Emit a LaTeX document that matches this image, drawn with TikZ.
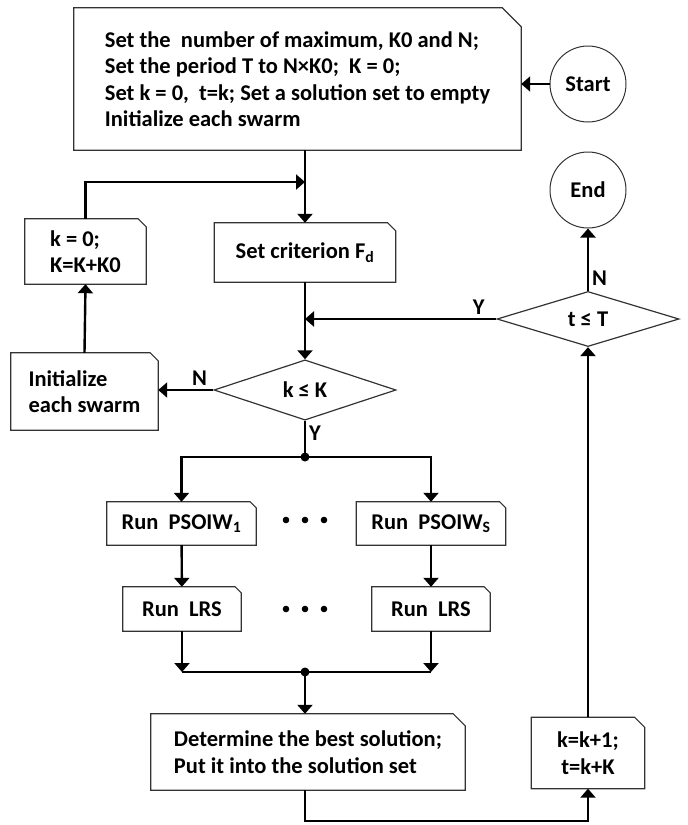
\documentclass[tikz,border=0pt]{standalone}
\usepackage{fontspec}
\setmainfont{Carlito}
\usetikzlibrary{arrows.meta,shapes.geometric}

\tikzset{
  frame/.style={draw=black!80, line width=1.2pt},
  cutbox/.style={inner sep=0pt, align=left, append after command={\pgfextra{
      \draw[frame] (\tikzlastnode.south west) -- (\tikzlastnode.north west)
        -- ([xshift=-#1]\tikzlastnode.north east) -- ([yshift=-#1]\tikzlastnode.north east)
        -- (\tikzlastnode.south east) -- cycle;}}},
  terminal/.style={circle, draw=black!80, line width=1pt, minimum size=76pt, inner sep=0pt},
  decision/.style={diamond, draw=black!80, line width=1.2pt, minimum width=182pt, minimum height=54pt, inner sep=0pt},
  conn/.style={line width=2.4pt},
  arr/.style={conn, -{Triangle[width=15pt,length=9pt]}},
  lbl/.style={inner sep=3pt}
}

\begin{document}
\begin{tikzpicture}[x=1pt, y=-1pt, font=\fontsize{22.5}{26.5}\selectfont\bfseries]
	\useasboundingbox (0,0) rectangle (688,825);
	%% boxes
	\node[cutbox=19pt, minimum width=447pt, minimum height=142pt] (init0) at (297.5,79)
		{Set the\ \ number of maximum, K0 and N;\\ Set the period T to N×K0;\ \ K = 0;\\ Set k = 0,\ \ t=k; Set a solution set to empty\\ Initialize each swarm};
	\node[terminal] (start) at (588,84) {Start};
	\node[terminal] (finish) at (588,190) {End};
	\node[decision] (tcheck) at (588,319) {t ≤ T};
	\node[cutbox=8pt, minimum width=181pt, minimum height=59pt] (crit) at (305,252.5) {Set criterion F\textsubscript{d}};
	\node[cutbox=8pt, minimum width=121pt, minimum height=65pt] (kreset) at (85.5,251.5) {k = 0;\\K=K+K0};
	\node[cutbox=8pt, minimum width=147pt, minimum height=77pt] (reinit) at (84.5,391.5) {Initialize\\each swarm};
	\node[decision] (kcheck) at (305,390) {k ≤ K};
	\node[cutbox=6pt, minimum width=149pt, minimum height=43pt] (pso1) at (181.5,523.5) {Run\ \ PSOIW\textsubscript{1}};
	\node[cutbox=6pt, minimum width=149pt, minimum height=43pt] (psoS) at (431,523.5) {Run\ \ PSOIW\textsubscript{S}};
	\node[cutbox=6pt, minimum width=118pt, minimum height=44pt] (lrs1) at (182,609) {Run\ \ LRS};
	\node[cutbox=6pt, minimum width=118pt, minimum height=44pt] (lrsS) at (431,609) {Run\ \ LRS};
	\node[cutbox=12pt, minimum width=314pt, minimum height=76pt] (best) at (308,752) {Determine the best solution;\\Put it into the solution set};
	\node[cutbox=10pt, minimum width=113pt, minimum height=71pt, align=center] (kinc) at (588,753) {k=k+1;\\t=k+K};
	\coordinate (back) at (305,182);
	\coordinate (split) at (305,457);
	\coordinate (merge) at (305,672);
	%% connectors
	\draw[arr] (start.west) -- (start.west -| init0.east);
	\draw[arr] (crit.north |- init0.south) -- (crit.north);
	\draw[arr] (kreset.north) |- (back);
	\draw[arr] (crit.south) -- (kcheck.north);
	\draw[arr] (tcheck.west) -- node[lbl, pos=0.04, above left] {Y} (tcheck.west -| kcheck.north);
	\draw[arr] (tcheck.north) -- node[lbl, pos=0.2, right] {N} (finish.south);
	\draw[arr] (kcheck.west) -- node[lbl, pos=0.25, above] {N} (reinit.east |- kcheck.west);
	\draw[arr] (reinit.north) -- (kreset.south);
	\draw[conn] (kcheck.south) -- node[lbl, pos=0.35, right] {Y} (split);
	\draw[arr] (split) -| (pso1.north);
	\draw[arr] (split) -| (psoS.north);
	\draw[arr] (pso1) -- (lrs1);
	\draw[arr] (psoS) -- (lrsS);
	\draw[arr] (lrs1.south) -- (lrs1.south |- merge);
	\draw[arr] (lrsS.south) -- (lrsS.south |- merge);
	\draw[conn] (lrs1.south |- merge) -- (lrsS.south |- merge);
	\draw[arr] (merge) -- (merge |- best.north);
	\draw[arr] (best.south -| merge) -- ++(0,31) -| (kinc.south);
	\draw[arr] (kinc.north) -- (tcheck.south);
	\fill (split) circle (4.5);
	\fill (merge) circle (4.5);
	%% dots between the parallel runs
	\foreach \dx in {-19,0,19} {
		\fill (305+\dx,520) circle (3.3);
		\fill (305+\dx,609) circle (3.3);
	}
\end{tikzpicture}
\end{document}
